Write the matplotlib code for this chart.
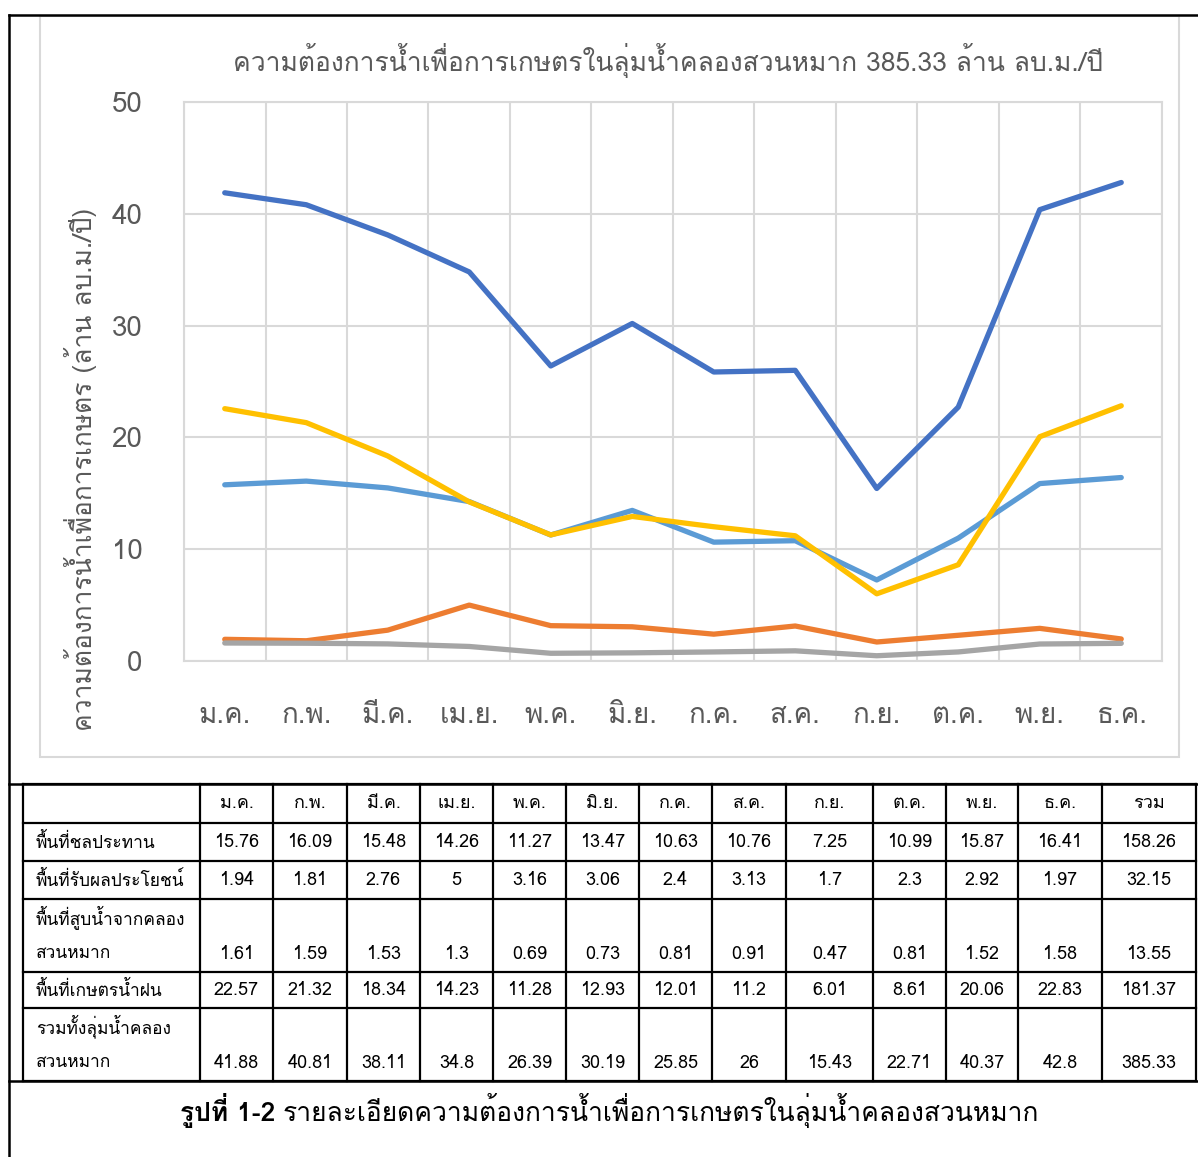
import matplotlib
matplotlib.use("Agg")
import matplotlib.pyplot as plt
import matplotlib.font_manager as fm
from matplotlib.ft2font import FT2Font
from matplotlib.lines import Line2D
from matplotlib.patches import Rectangle

# pick an installed font that has Thai glyphs (if any)
thai_font = None
for f in fm.fontManager.ttflist:
    try:
        if 0x0E01 in FT2Font(f.fname).get_charmap():
            thai_font = f.name
            break
    except Exception:
        pass
fams = [thai_font, "DejaVu Sans"] if thai_font else ["DejaVu Sans"]
plt.rcParams["font.family"] = fams

months = ["ม.ค.", "ก.พ.", "มี.ค.", "เม.ย.", "พ.ค.", "มิ.ย.", "ก.ค.", "ส.ค.", "ก.ย.", "ต.ค.", "พ.ย.", "ธ.ค."]
irrigated = [15.76, 16.09, 15.48, 14.26, 11.27, 13.47, 10.63, 10.76, 7.25, 10.99, 15.87, 16.41]
benefit = [1.94, 1.81, 2.76, 5, 3.16, 3.06, 2.4, 3.13, 1.7, 2.3, 2.92, 1.97]
pumping = [1.61, 1.59, 1.53, 1.3, 0.69, 0.73, 0.81, 0.91, 0.47, 0.81, 1.52, 1.58]
rainfed = [22.57, 21.32, 18.34, 14.23, 11.28, 12.93, 12.01, 11.2, 6.01, 8.61, 20.06, 22.83]
total = [41.88, 40.81, 38.11, 34.8, 26.39, 30.19, 25.85, 26, 15.43, 22.71, 40.37, 42.8]
annual = [158.26, 32.15, 13.55, 181.37, 385.33]
row_labels = [["พื้นที่ชลประทาน"], ["พื้นที่รับผลประโยชน์"], ["พื้นที่สูบน้ำจากคลอง", "สวนหมาก"],
              ["พื้นที่เกษตรน้ำฝน"], ["รวมทั้งลุ่มน้ำคลอง", "สวนหมาก"]]

W, H = 1198, 1157
fig = plt.figure(figsize=(W / 100, H / 100), dpi=100)

# overlay axes in pixel coordinates for frame, table and caption
pa = fig.add_axes([0, 0, 1, 1])
pa.set_xlim(0, W)
pa.set_ylim(H, 0)
pa.axis("off")

pa.add_patch(Rectangle((40, 16), 1139, 741, fill=False, ec="#D9D9D9", lw=1.5))
for xs, ys in [([9, 9], [15, H]), ([9, W], [15, 15]), ([9, W], [784, 784]), ([9, W], [1081, 1081])]:
    pa.add_line(Line2D(xs, ys, color="black", lw=1.8))

# chart
ax = fig.add_axes([184 / W, 1 - 661 / H, (1162 - 184) / W, (661 - 102) / H])
x = [i + 0.5 for i in range(12)]
gray = "#595959"
for vals, col in [(irrigated, "#5B9BD5"), (benefit, "#ED7D31"), (pumping, "#A5A5A5"),
                  (rainfed, "#FFC000"), (total, "#4472C4")]:
    ax.plot(x, vals, color=col, lw=3.8, solid_capstyle="round", solid_joinstyle="round")
ax.set_xlim(0, 12)
ax.set_ylim(0, 50)
ax.set_yticks(range(0, 51, 10))
ax.set_xticks(x)
ax.set_xticklabels(months)
ax.set_xticks(range(13), minor=True)
ax.grid(True, which="major", axis="y", color="#D9D9D9", lw=1.5)
ax.grid(True, which="minor", axis="x", color="#D9D9D9", lw=1.5)
ax.set_axisbelow(True)
for s in ax.spines.values():
    s.set_color("#D9D9D9")
    s.set_linewidth(1.5)
ax.tick_params(which="both", length=0)
ax.tick_params(axis="y", labelsize=20, labelcolor=gray, pad=30)
ax.tick_params(axis="x", labelsize=20, labelcolor=gray, pad=30)
ax.set_ylabel("ความต้องการน้ำเพื่อการเกษตร (ล้าน ลบ.ม./ปี)", fontsize=19, color=gray, va="center")
ax.yaxis.set_label_coords(-0.106, 0.343)
pa.text(668, 60, "ความต้องการน้ำเพื่อการเกษตรในลุ่มน้ำคลองสวนหมาก 385.33 ล้าน ลบ.ม./ปี",
        fontsize=19, color=gray, ha="center", va="center")

# table
col_edges = [23, 200, 273, 347, 420, 493, 566, 639, 712, 786, 873, 946, 1018, 1102, 1196]
row_edges = [784, 823, 861, 899, 972, 1008, 1081]
for ye in row_edges:
    pa.add_line(Line2D([col_edges[0], col_edges[-1]], [ye, ye], color="black", lw=1.6))
for xe in col_edges:
    pa.add_line(Line2D([xe, xe], [row_edges[0], row_edges[-1]], color="black", lw=1.6))

tsize = 13
for j, name in enumerate(months + ["รวม"]):
    pa.text((col_edges[j + 1] + col_edges[j + 2]) / 2, (row_edges[0] + row_edges[1]) / 2, name,
            fontsize=tsize, ha="center", va="center")
rows = [irrigated, benefit, pumping, rainfed, total]
for r, vals in enumerate(rows):
    top, bot = row_edges[r + 1], row_edges[r + 2]
    lab = row_labels[r]
    if len(lab) == 1:
        ys = [(top + bot) / 2]
    else:
        ys = [top + 18, bot - 18]
    for k, t in enumerate(lab):
        pa.text(col_edges[0] + 13, ys[k], t, fontsize=12.5, ha="left", va="center")
    for j, v in enumerate(vals + [annual[r]]):
        pa.text((col_edges[j + 1] + col_edges[j + 2]) / 2, ys[-1], f"{v:g}",
                fontsize=tsize, ha="center", va="center")

# caption: bold figure number followed by regular text
cap = pa.text(180, 1110, "รูปที่ 1-2", fontsize=19, fontweight="bold", ha="left", va="center")
fig.canvas.draw()
bb = cap.get_window_extent()
x_end = pa.transData.inverted().transform((bb.x1, bb.y0))[0]
pa.text(x_end + 7, 1110, "รายละเอียดความต้องการน้ำเพื่อการเกษตรในลุ่มน้ำคลองสวนหมาก",
        fontsize=19, ha="left", va="center")

fig.savefig("out.png", dpi=100)
